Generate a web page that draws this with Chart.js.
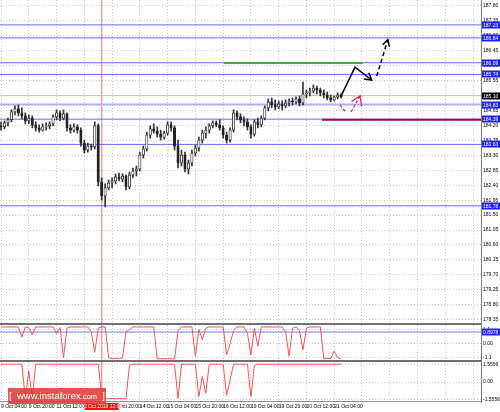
<!DOCTYPE html>
<html lang="en">
<head>
<meta charset="UTF-8">
<title>Price chart</title>
<script src="https://cdn.jsdelivr.net/npm/chart.js"></script>
<style>
  body { margin: 0; background: #fff; }
  #wrap { position: relative; width: 500px; height: 412px; overflow: hidden; }
  canvas { position: absolute; left: 0; }
  #c1 { top: 0; }
  #c2 { top: 325px; }
  #c3 { top: 362px; }
  .logo {
    position: absolute; left: 8px; top: 388px; width: 98px; height: 16px;
    background: rgba(226, 58, 58, 0.88); color: #fff;
    font: 9.5px "Liberation Sans", Arial, sans-serif; line-height: 16px;
    text-align: center; white-space: nowrap;
  }
  .logo small { font-size: 7.5px; }
</style>
</head>
<body>
<div id="wrap">
  <canvas id="c1" width="500" height="325"></canvas>
  <canvas id="c2" width="500" height="37"></canvas>
  <canvas id="c3" width="500" height="50"></canvas>
  <div class="logo">[&nbsp; www.instaforex<small>.com</small> &nbsp;]</div>
</div>
<script>
// hourly candles, index 0 = 9 Oct 04:00
const opens = [184.19,184.16,184.28,184.37,184.61,184.70,184.58,184.49,184.34,184.42,
  184.22,184.13,184.06,184.16,184.19,184.25,184.46,184.58,184.42,184.55,
  184.13,184.06,184.16,184.06,183.67,183.46,183.58,183.55,184.19,182.50,
  182.08,182.32,182.47,182.53,182.65,182.59,182.68,182.35,182.71,182.83,
  182.89,183.31,183.49,183.91,184.10,184.03,183.94,183.85,183.97,184.22,
  184.13,183.58,183.07,183.31,182.89,183.07,183.37,183.52,183.76,183.97,
  184.06,184.19,184.28,184.22,184.13,183.91,183.76,184.06,184.58,184.46,
  184.37,184.31,184.16,183.94,184.31,184.22,184.42,184.73,184.91,184.82,
  184.76,184.85,184.79,184.88,184.94,184.91,185.00,184.88,185.15,185.18,
  185.24,185.33,185.27,185.18,185.12,185.03,184.97,185.06,185.12];
const highs = [184.31,184.34,184.42,184.67,184.79,184.82,184.73,184.58,184.52,184.49,
  184.31,184.22,184.25,184.28,184.31,184.52,184.67,184.64,184.67,184.58,
  184.22,184.25,184.22,184.13,183.76,183.67,183.64,184.31,184.25,182.62,
  182.44,182.56,182.62,182.74,182.77,182.74,182.71,182.80,182.92,182.98,
  183.40,183.58,184.00,184.19,184.25,184.16,184.06,184.03,184.31,184.31,
  184.19,183.76,183.46,183.40,183.16,183.46,183.61,183.85,184.06,184.16,
  184.25,184.34,184.34,184.37,184.19,184.00,184.13,184.67,184.64,184.55,
  184.46,184.40,184.22,184.37,184.42,184.49,184.79,185.00,185.03,184.97,
  184.94,184.94,184.97,185.00,185.03,185.06,185.09,185.51,185.27,185.33,
  185.42,185.39,185.33,185.27,185.21,185.12,185.09,185.18,185.15];
const lows = [184.06,184.10,184.19,184.31,184.52,184.49,184.40,184.25,184.25,184.13,
  184.03,184.00,184.03,184.06,184.10,184.19,184.37,184.34,184.37,184.03,
  183.97,184.00,183.97,183.58,183.37,183.40,183.46,183.49,182.38,181.96,
  181.75,182.26,182.32,182.44,182.53,182.50,182.26,182.29,182.62,182.68,
  182.83,183.22,183.43,183.82,183.97,183.85,183.76,183.79,183.91,184.03,
  183.46,182.92,182.98,182.80,182.74,182.98,183.28,183.43,183.67,183.82,
  183.97,184.13,184.16,184.06,183.82,183.67,183.70,184.00,184.37,184.28,
  184.19,184.06,183.82,183.88,184.13,184.16,184.37,184.64,184.73,184.67,
  184.70,184.67,184.73,184.79,184.82,184.85,184.79,184.82,185.03,185.09,
  185.18,185.15,185.09,185.03,184.97,184.91,184.94,185.00,185.03];
const closes = [184.16,184.28,184.37,184.61,184.70,184.58,184.49,184.34,184.42,184.22,
  184.13,184.06,184.16,184.19,184.25,184.46,184.58,184.42,184.55,184.13,
  184.06,184.16,184.06,183.67,183.46,183.58,183.55,184.19,182.50,182.08,
  182.32,182.47,182.53,182.65,182.59,182.68,182.35,182.71,182.83,182.89,
  183.31,183.49,183.91,184.10,184.03,183.94,183.85,183.97,184.22,184.13,
  183.58,183.07,183.31,182.89,183.07,183.37,183.52,183.76,183.97,184.06,
  184.19,184.28,184.22,184.13,183.91,183.76,184.06,184.58,184.46,184.37,
  184.31,184.16,183.94,184.31,184.22,184.42,184.73,184.91,184.82,184.76,
  184.85,184.79,184.88,184.94,184.91,185.00,184.88,185.15,185.18,185.24,
  185.33,185.27,185.18,185.12,185.03,184.97,185.06,185.12,185.06];

// lower panels
const osc1 = [1.3,1.3,1.3,1.3,1.3,1.3,0.5,1.3,1.25,0.7,
  1.3,1.3,1.3,1.3,1.3,1.3,0.8,1.25,-1.1,1.2,
  1.3,1.3,1.3,1.3,1.3,1.3,0.9,-0.7,1.2,1.3,
  1.3,-1.1,-1.2,-1.15,-1.2,-1.1,0.9,1.1,1.3,1.3,
  1.3,1.3,1.3,1.3,1.3,-1.2,-1.2,-1.2,-1.2,-1.2,
  -1.2,1.0,1.3,1.3,1.3,1.3,-1.0,1.1,0.3,1.2,
  1.3,1.3,1.3,1.3,1.3,-0.9,0.0,1.0,1.3,1.3,
  1.3,0.8,-0.9,1.2,-0.2,1.3,1.3,1.3,1.3,1.3,
  1.3,1.3,0.9,-1.0,1.2,1.3,1.0,-0.5,1.2,1.3,
  1.3,1.3,1.3,-1.2,-1.15,-1.2,-0.6,-1.1,-1.2];
const osc2 = [1.6,1.6,1.6,1.6,1.6,1.6,1.6,-1.5,1.0,-1.5,
  1.6,1.6,1.6,1.6,1.6,1.6,1.6,1.6,1.6,1.6,
  1.6,1.6,1.6,1.6,1.6,1.6,1.6,1.6,1.6,-1.2,
  -1.5,-1.5,-1.5,-1.5,-1.5,-1.5,-1.5,1.5,1.6,1.6,
  1.6,1.6,1.6,1.6,1.6,1.6,1.6,1.6,1.6,1.6,
  1.6,-1.5,1.6,1.6,1.6,1.6,1.6,-1.3,0.5,-1.0,
  1.6,1.6,1.6,1.6,1.6,-1.2,0.2,1.6,1.6,1.6,
  1.6,1.6,-1.3,1.5,1.6,1.6,1.6,1.6,1.6,1.6,
  1.6,1.6,1.6,1.6,1.6,1.6,1.6,1.6,1.6,1.6,
  1.6,1.6,1.6,1.6,1.6,1.6,1.6,1.6,1.6];

const timeLabels = ['9 Oct 04:00','9 Oct 20:00','11 Oct 12:00','12 Oct 04:00','12 Oct 20:00',
  '14 Oct 12:00','15 Oct 04:00','15 Oct 20:00','16 Oct 12:00','19 Oct 04:00',
  '19 Oct 20:00','20 Oct 12:00','21 Oct 04:00'];
const priceTicks = [187.80,187.35,186.90,186.45,186.00,185.55,185.10,184.65,184.20,183.75,
  183.30,182.85,182.40,181.95,181.50,181.05,180.60,180.15,179.70,179.25,178.80,178.35];
const osc1Ticks = [1.1, 0, -1.1];
const osc2Ticks = [1.5556, 0, -1.5556];

const levels = [187.23, 186.84, 186.09, 185.74, 184.83, 184.39, 183.63, 181.78];
const currentPrice = 185.10;
const osc1Level = 0.8978;
const greenLevel = 186.08;
const purpleLevel = 184.37;
const markerIdx = 29;
const markerText = '12 Oct 2018 12:00';

// forecast arrows, in (bar index, price)
const upPath = [{x:98,y:185.09},{x:102,y:185.96},{x:106.8,y:185.57}];
const upHead = [{x:104.55,y:185.60},{x:106.8,y:185.57},{x:105.96,y:185.79}];
const upDash = [{x:108.27,y:185.69},{x:111.44,y:186.78}];
const upDashHead = [{x:109.97,y:186.63},{x:111.44,y:186.78},{x:111.9,y:186.57}];
const downDash = [{x:97.7,y:184.82},{x:99.4,y:184.59}];
const downShaft = [{x:100.87,y:184.61},{x:103.45,y:185.09}];
const downHead = [{x:101.0,y:184.92},{x:103.45,y:185.09},{x:103.9,y:184.77}];

const X_MIN = -0.3, X_MAX = 138.3;
const FONT = '"Liberation Sans", Arial, sans-serif';

const gridIdx = [];
for (let v = 0; v <= X_MAX; v += 8) gridIdx.push(v);

function xAxis(showLabels) {
  return {
    type: 'linear', min: X_MIN, max: X_MAX, offset: false,
    afterBuildTicks: s => { s.ticks = gridIdx.map(v => ({ value: v })); },
    afterFit: s => { s.height = showLabels ? 10 : 0; s.paddingLeft = 0; s.paddingRight = 0; },
    grid: { color: '#c8c8c8', drawTicks: false, offset: false },
    border: { display: false, dash: [1, 2] },
    ticks: {
      display: showLabels, align: 'start', maxRotation: 0, minRotation: 0, autoSkip: false,
      padding: 2, color: '#000', font: { family: FONT, size: 5 },
      callback: (v, i) => timeLabels[i] || ''
    }
  };
}

function yAxis(min, max, ticks, fmt) {
  return {
    type: 'linear', position: 'right', min: min, max: max, beginAtZero: false,
    afterBuildTicks: s => { s.ticks = ticks.map(v => ({ value: v })); },
    afterFit: s => { s.width = 19; s.paddingTop = 0; s.paddingBottom = 0; },
    grid: { color: '#c8c8c8', drawTicks: false },
    border: { display: true, color: '#808080', width: 1, dash: [1, 2] },
    ticks: { padding: 2, color: '#000', autoSkip: false, font: { family: FONT, size: 5 }, callback: fmt }
  };
}

function path(points, color, width, dash, order) {
  return { type: 'line', data: points, borderColor: color, borderWidth: width,
    borderDash: dash || [], pointRadius: 0, order: order === undefined ? 2 : order };
}
function hline(v, color, width, x0, x1, order) {
  return path([{ x: x0 === undefined ? X_MIN : x0, y: v }, { x: x1 === undefined ? X_MAX : x1, y: v }],
    color, width, null, order);
}
function marker(min, max) {
  return path([{ x: markerIdx, y: min }, { x: markerIdx, y: max }], 'rgba(255,70,70,0.55)', 1.5, null, 3);
}

// separator under each panel
const panelFrame = {
  id: 'panelFrame',
  afterDraw(chart, args, opts) {
    const a = chart.chartArea, ctx = chart.ctx;
    ctx.save();
    ctx.fillStyle = opts.color || '#707070';
    ctx.fillRect(a.left, a.bottom - (opts.width || 2), a.right - a.left, opts.width || 2);
    ctx.restore();
  }
};

// value boxes on the price axis
function tagPlugin(tags) {
  return {
    id: 'tags',
    afterDraw(chart) {
      const ctx = chart.ctx, y = chart.scales.y;
      ctx.save();
      ctx.font = '5px ' + FONT;
      ctx.textBaseline = 'middle';
      tags.forEach(t => {
        const py = Math.round(y.getPixelForValue(t.value));
        ctx.fillStyle = t.dark ? '#000' : '#2020f0';
        ctx.fillRect(482, py - 3.5, 18, 7);
        ctx.fillStyle = '#fff';
        ctx.fillText(t.text, 483, py + 0.5);
      });
      ctx.restore();
    }
  };
}

const markerTag = {
  id: 'markerTag',
  afterDraw(chart) {
    const ctx = chart.ctx, x = chart.scales.x.getPixelForValue(markerIdx);
    const top = chart.chartArea.bottom + 1;
    ctx.save();
    ctx.fillStyle = '#ff1010';
    ctx.fillRect(x - 17, top, 34, 7);
    ctx.fillStyle = '#fff';
    ctx.font = '5px ' + FONT;
    ctx.textAlign = 'center';
    ctx.textBaseline = 'middle';
    ctx.fillText(markerText, x, top + 3.8);
    ctx.restore();
  }
};

const base = {
  responsive: false, animation: false, devicePixelRatio: 1, events: [],
  layout: { padding: 0 }
};

// main price panel
const P_MIN = 178.19, P_MAX = 187.98;
new Chart(document.getElementById('c1'), {
  type: 'bar',
  data: {
    datasets: [
      { type: 'bar', data: closes.map((c, i) => ({ x: i, y: [opens[i], c] })),
        backgroundColor: ctx => closes[ctx.dataIndex] > opens[ctx.dataIndex] ? '#fff' : '#222',
        borderColor: '#222', borderWidth: 0.8, borderSkipped: false, barThickness: 2.4,
        minBarLength: 1, grouped: false, order: 0 },
      { type: 'bar', data: closes.map((c, i) => ({ x: i, y: [lows[i], highs[i]] })),
        backgroundColor: '#333', borderWidth: 0, barThickness: 1, grouped: false, order: 1 },
      ...levels.map(v => hline(v, v === 184.83 ? 'rgb(175,175,255)' : 'rgb(105,105,245)', v === 184.83 ? 2 : 1)),
      hline(currentPrice, '#c4c4c4', 1),
      hline(greenLevel, 'rgb(60,175,60)', 2, 64.3, 104.3, 1.5),
      hline(purpleLevel, 'rgb(160,0,85)', 2, 92.5, X_MAX, 1.5),
      marker(P_MIN, P_MAX),
      path(upPath, '#000', 1.5, null, -1),
      path(upHead, '#000', 1.5, null, -1),
      path(upDash, '#000', 1.5, [4, 3], -1),
      path(upDashHead, '#000', 1.5, null, -1),
      path(downDash, 'rgb(230,40,60)', 1.3, [3, 2], -1),
      path(downShaft, 'rgb(230,40,60)', 1.3, [3, 2], -1),
      path(downHead, 'rgb(230,40,60)', 1.3, null, -1)
    ]
  },
  options: Object.assign({}, base, {
    plugins: { legend: { display: false }, tooltip: { enabled: false }, panelFrame: { width: 2 } },
    scales: { x: xAxis(false), y: yAxis(P_MIN, P_MAX, priceTicks, v => Number(v).toFixed(2)) }
  }),
  plugins: [panelFrame, tagPlugin(
    levels.map(v => ({ value: v, text: v.toFixed(2) }))
      .concat([{ value: currentPrice, text: currentPrice.toFixed(2), dark: true }])
  )]
});

// oscillator 1
new Chart(document.getElementById('c2'), {
  type: 'line',
  data: {
    datasets: [
      hline(osc1Level, 'rgb(120,120,250)', 1),
      marker(-1.45, 1.45),
      path(osc1.map((v, i) => ({ x: i, y: v })), 'rgb(255,80,80)', 1, null, 0)
    ]
  },
  options: Object.assign({}, base, {
    plugins: { legend: { display: false }, tooltip: { enabled: false }, panelFrame: { width: 2 } },
    scales: { x: xAxis(false), y: yAxis(-1.45, 1.45, osc1Ticks, v => v === 0 ? '0.00' : String(v)) }
  }),
  plugins: [panelFrame, tagPlugin([{ value: osc1Level, text: String(osc1Level) }])]
});

// oscillator 2 with time axis
new Chart(document.getElementById('c3'), {
  type: 'line',
  data: {
    datasets: [
      marker(-1.8, 1.8),
      path(osc2.map((v, i) => ({ x: i, y: v })), 'rgb(255,80,80)', 1, null, 0)
    ]
  },
  options: Object.assign({}, base, {
    plugins: { legend: { display: false }, tooltip: { enabled: false }, panelFrame: { width: 1, color: '#909090' } },
    scales: { x: xAxis(true), y: yAxis(-1.8, 1.8, osc2Ticks, v => v === 0 ? '0.00' : Number(v).toFixed(4)) }
  }),
  plugins: [panelFrame, markerTag]
});
</script>
</body>
</html>
